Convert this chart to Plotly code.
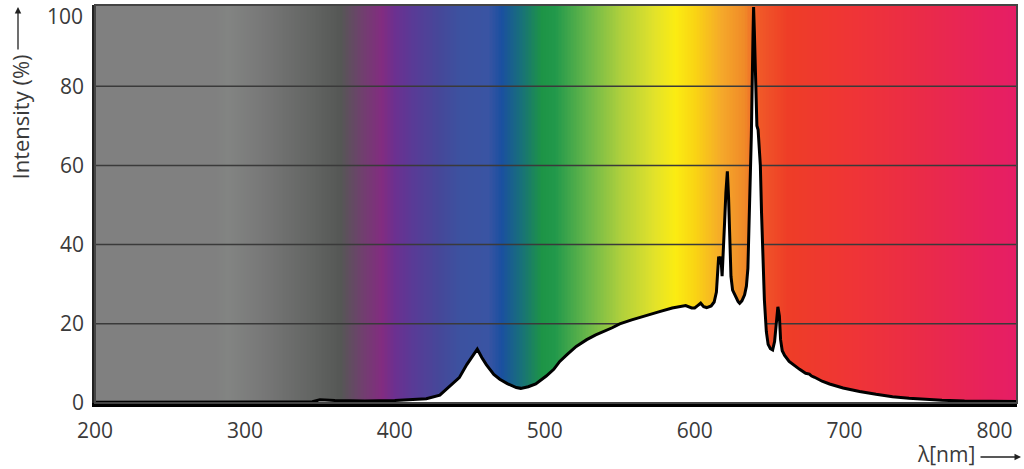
import numpy as np
import plotly.graph_objects as go

# ================= DATA ===================
# emission spectrum (nm, % of peak)
wavelength = [200, 300, 345, 350, 360, 380, 400, 412, 421, 430, 436, 443, 448, 452, 455,
              458, 461, 466, 470, 475, 481, 484, 489, 494, 501, 506, 510, 515, 521, 528,
              534, 545, 550, 558, 568, 576, 585, 594, 598, 600, 602, 604, 606, 608, 611,
              613, 614.5, 615.3, 616, 616.8, 617.5, 618.3, 619.2, 620, 620.8, 621.8, 622.6,
              623.3, 624.2, 625.3, 626.5, 627.8, 629, 630, 631.5, 633.3, 634.5, 635.5, 636.7,
              637.8, 638.9, 639.3, 639.8, 640.7, 641.5, 642.3, 643, 643.8, 644.6, 645.5,
              646.5, 647.8, 649, 650.5, 652, 653.3, 654.5, 655.5, 656.5, 657.3, 658.4, 660,
              663, 666, 670, 674, 676.5, 678, 680, 685, 690, 699, 710, 721, 732, 743, 755,
              765, 780, 800, 815]
intensity = [0.2, 0.2, 0.3, 0.8, 0.6, 0.5, 0.6, 0.9, 1.1, 2.0, 4.0, 6.4, 9.7, 12.0, 13.6,
             11.5, 9.7, 7.2, 6.0, 4.9, 3.9, 3.7, 4.1, 4.8, 6.8, 8.5, 10.5, 12.3, 14.3, 16.0,
             17.2, 19.0, 20.0, 21.0, 22.2, 23.0, 24.0, 24.6, 24.0, 24.0, 24.6, 25.2, 24.3, 24.1, 24.5,
             25.5, 28, 33, 37, 35, 37, 32, 38, 46, 53, 58.5, 52,
             42, 32, 28.5, 27.5, 26.8, 25.6, 25.2, 25.8, 27.3, 29.5, 34, 50.7,
             67.5, 92.6, 100, 94, 80, 70, 69, 64, 60, 48, 36,
             26, 18, 14.8, 13.7, 13.4, 15.5, 20.5, 24.3, 22, 16, 13.2, 12,
             10.5, 9.6, 8.5, 7.5, 7.3, 6.8, 6.5, 5.5, 4.8, 3.8, 2.9, 2.2, 1.6, 1.2, 0.9,
             0.7, 0.5, 0.4, 0.4]

# background colour band (nm -> colour)
band_nm = [200, 280, 289, 311, 344, 364, 378, 391, 400, 411, 429, 444, 462, 471, 484,
           498, 507, 529, 551, 573, 587, 600, 618, 633, 642, 662, 707, 751, 815]
band_col = ["#808080", "#808080", "#828482", "#787878", "#636563", "#555755", "#70406e",
            "#822c80", "#6c3090", "#5a3a96", "#464799", "#3c52a0", "#3a54a3", "#1a50a0",
            "#18707a", "#1d9446", "#22994b", "#6bb84a", "#b0d03c", "#e2e22a", "#fbec12",
            "#f9d414", "#f5a82a", "#f08a28", "#f05a28", "#ee3d27", "#ef3437", "#ea2b48",
            "#e61d66"]

x_ticks = [200, 300, 400, 500, 600, 700, 800]
y_ticks = [0, 20, 40, 60, 80]
y_top_tick = 100   # drawn separately, sits a bit lower than its gridline
grid_vals = [20, 40, 60, 80]

X_MIN, X_MAX = 200, 815
Y_MAX = 100.5
FONT = "Open Sans, Noto Sans, DejaVu Sans, sans-serif"

# ===========================================
fig = go.Figure()

# spectrum colours behind the curve
grid_nm = np.arange(X_MIN, X_MAX + 1, 1)
scale = [[(n - X_MIN) / (X_MAX - X_MIN), c] for n, c in zip(band_nm, band_col)]
fig.add_trace(go.Heatmap(
    x=grid_nm, y=[0, Y_MAX], z=[grid_nm, grid_nm],
    colorscale=scale, zmin=X_MIN, zmax=X_MAX,
    showscale=False, hoverinfo="skip"
))

# horizontal grid lines (over the colours, under the white fill)
for g in grid_vals:
    fig.add_trace(go.Scatter(
        x=[X_MIN, X_MAX], y=[g, g], mode="lines",
        line=dict(color="#3a3a3a", width=1.5),
        hoverinfo="skip", showlegend=False
    ))

# white area under the spectrum
fig.add_trace(go.Scatter(
    x=wavelength, y=intensity, mode="lines",
    fill="tozeroy", fillcolor="white",
    line=dict(color="black", width=3),
    showlegend=False
))

fig.update_layout(
    width=1024, height=469,
    margin=dict(l=95, r=7, t=5, b=66),
    paper_bgcolor="white", plot_bgcolor="white",
    font=dict(family=FONT, size=21, color="#3a3a3a"),
    xaxis=dict(range=[X_MIN, X_MAX], tickvals=x_ticks, showgrid=False, zeroline=False,
               showline=True, linecolor="black", linewidth=4, ticks="",
               automargin=False, ticklabelstandoff=6),
    yaxis=dict(range=[0, Y_MAX], tickvals=y_ticks, showgrid=False, zeroline=False,
               showline=True, linecolor="#222", linewidth=2.5, ticks="",
               automargin=False, ticklabelstandoff=4),
    shapes=[dict(type="rect", xref="paper", yref="paper", x0=0, x1=1, y0=0, y1=1,
                 line=dict(color="#444", width=2), layer="above")],
    annotations=[
        dict(text=str(y_top_tick), xref="paper", yref="y", x=0, y=y_top_tick,
             xanchor="right", yanchor="middle", xshift=-10, yshift=-9,
             showarrow=False, font=dict(size=21)),
        dict(text="Intensity (%)", textangle=-90, xref="paper", yref="paper",
             x=0, y=1, xanchor="center", yanchor="top", xshift=-76, yshift=-48,
             showarrow=False, font=dict(size=22)),
        dict(text="", xref="paper", yref="paper", x=0, y=1, xshift=-77, yshift=-2,
             ax=0, ay=44, showarrow=True, arrowhead=2, arrowsize=1, arrowwidth=1.3,
             arrowcolor="#222"),
        dict(text="λ[nm]", xref="paper", yref="paper", x=1, y=0, xanchor="right",
             yanchor="middle", xshift=-40, yshift=-51, showarrow=False,
             font=dict(size=21)),
        dict(text="", xref="paper", yref="paper", x=1, y=0, xshift=4, yshift=-54,
             ax=-42, ay=0, showarrow=True, arrowhead=2, arrowsize=1, arrowwidth=1.3,
             arrowcolor="#222"),
    ],
)

# the page body has a default 8px margin; drop it so the figure sits at 0,0
fig.write_html("out.html", config={"displayModeBar": False},
               post_script="document.body.style.margin='0px';")
